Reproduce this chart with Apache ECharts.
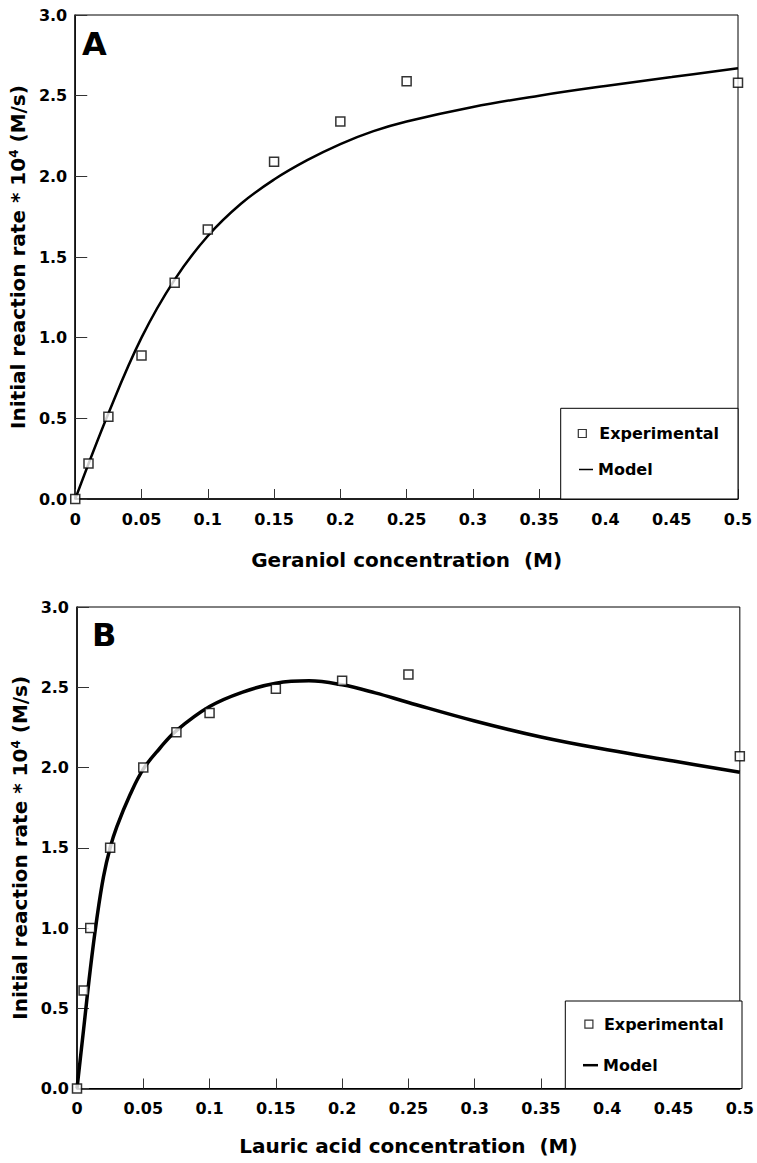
<!DOCTYPE html>
<html>
<head>
<meta charset="utf-8">
<script src="https://cdn.jsdelivr.net/npm/echarts@6/dist/echarts.min.js"></script>
<style>
html,body{margin:0;padding:0;background:#fff;}
#chart{width:757px;height:1163px;}
</style>
</head>
<body>
<div id="chart"></div>
<script>
// ---- Panel A: Geraniol ----
const xGeraniolExp = [0, 0.01, 0.025, 0.05, 0.075, 0.1, 0.15, 0.2, 0.25, 0.5];
const rateGeraniolExp = [0.0, 0.22, 0.51, 0.89, 1.34, 1.67, 2.09, 2.34, 2.59, 2.58];
const xGeraniolModel = [0, 0.025, 0.05, 0.075, 0.1, 0.125, 0.15, 0.175, 0.2, 0.225, 0.25, 0.3, 0.35, 0.4, 0.45, 0.5];
const rateGeraniolModel = [0, 0.53, 1.0, 1.36, 1.63, 1.83, 1.98, 2.10, 2.20, 2.28, 2.34, 2.43, 2.50, 2.56, 2.615, 2.67];

// ---- Panel B: Lauric acid ----
const xLauricExp = [0, 0.005, 0.01, 0.025, 0.05, 0.075, 0.1, 0.15, 0.2, 0.25, 0.5];
const rateLauricExp = [0.0, 0.61, 1.0, 1.5, 2.0, 2.22, 2.34, 2.49, 2.54, 2.58, 2.07];
const xLauricModel = [0, 0.005, 0.01, 0.015, 0.02, 0.025, 0.03, 0.04, 0.05, 0.0625, 0.075, 0.1, 0.125, 0.15, 0.175, 0.2, 0.225, 0.25, 0.3, 0.35, 0.4, 0.45, 0.5];
const rateLauricModel = [0, 0.37, 0.74, 1.06, 1.32, 1.50, 1.63, 1.83, 1.99, 2.12, 2.23, 2.38, 2.47, 2.525, 2.54, 2.515, 2.465, 2.405, 2.29, 2.19, 2.11, 2.04, 1.97];

// ---- Text ----
const panelLabels = ['A', 'B'];
const xTitles = ['Geraniol concentration  (M)', 'Lauric acid concentration  (M)'];
const yTitle = 'Initial reaction rate * 10{sup|4} (M/s)';
const legendNames = ['Experimental', 'Model'];

const FONT = 'DejaVu Sans';
const zip = (xs, ys) => xs.map((x, i) => [x, ys[i]]);

const grids = [
  { left: 72, right: 19, top: 15, height: 484 },
  { left: 77, right: 16, top: 607, height: 481.5 }
];

function xAxisFor(i, gap) {
  return {
    type: 'value', gridIndex: i, min: 0, max: 0.5, interval: 0.05,
    name: xTitles[i], nameLocation: 'middle', nameGap: gap,
    nameTextStyle: { fontFamily: FONT, fontWeight: 'bold', fontSize: 20, color: '#000' },
    axisLine: { show: true, onZero: false, lineStyle: { color: '#000', width: 1.5 } },
    axisTick: { show: true, inside: true, length: 10, lineStyle: { color: '#333', width: 1 } },
    axisLabel: { margin: 12, fontFamily: FONT, fontWeight: 'bold', fontSize: 16, color: '#000',
      formatter: v => String(+v.toFixed(2)) },
    splitLine: { show: false }
  };
}
function yAxisFor(i, gap) {
  return {
    type: 'value', gridIndex: i, min: 0, max: 3, interval: 0.5,
    name: yTitle, nameLocation: 'middle', nameGap: gap, nameRotate: 90,
    nameTextStyle: { fontFamily: FONT, fontWeight: 'bold', fontSize: 20, color: '#000',
      rich: { sup: { fontFamily: FONT, fontWeight: 'bold', fontSize: 12, color: '#000', verticalAlign: 'top', padding: [0, 0, 8, 0] } } },
    axisLine: { show: true, onZero: false, lineStyle: { color: '#000', width: 1.5 } },
    axisTick: { show: true, inside: true, length: 12, lineStyle: { color: '#333', width: 1 } },
    axisLabel: { margin: 8, fontFamily: FONT, fontWeight: 'bold', fontSize: 16, color: '#000',
      formatter: v => v.toFixed(1) },
    splitLine: { show: false }
  };
}

const chart = echarts.init(document.getElementById('chart'), null, { renderer: 'svg' });

const expItem = { color: '#fff', borderColor: '#000', borderWidth: 1.5 };
const legText = (padLeft) => ({ fontFamily: FONT, fontWeight: 'bold', fontSize: 16, color: '#000', padding: [0, 0, 0, padLeft] });

chart.setOption({
  animation: false,
  backgroundColor: '#fff',
  grid: grids.map(g => Object.assign({ show: true, borderColor: '#000', borderWidth: 1, backgroundColor: 'transparent' }, g)),
  xAxis: [xAxisFor(0, 51), xAxisFor(1, 47)],
  yAxis: [yAxisFor(0, 39), yAxisFor(1, 40)],
  legend: [
    { data: [legendNames[0]], left: 577.7, top: 425.5, itemWidth: 8, itemHeight: 8, padding: 0, z: 20,
      itemStyle: { borderWidth: 1.2 }, textStyle: legText(8) },
    { data: [{ name: legendNames[1], icon: 'rect', itemStyle: { color: '#000', borderWidth: 0 } }],
      left: 579, top: 461.5, itemWidth: 14, itemHeight: 1.5, padding: 0, z: 20, textStyle: legText(0) },
    { data: [legendNames[0]], left: 584.3, top: 1016.2, itemWidth: 8, itemHeight: 8, padding: 0, z: 20,
      itemStyle: { borderWidth: 1.2 }, textStyle: legText(6) },
    { data: [{ name: legendNames[1], icon: 'rect', itemStyle: { color: '#000', borderWidth: 0 } }],
      left: 583, top: 1057.2, itemWidth: 15, itemHeight: 2.5, padding: 0, z: 20, textStyle: legText(0) }
  ],
  graphic: [
    { type: 'rect', z: 10, shape: { x: 560.7, y: 408.3, width: 177.3, height: 90.7 },
      style: { fill: '#fff', stroke: '#000', lineWidth: 1 } },
    { type: 'rect', z: 10, shape: { x: 565.3, y: 1001, width: 176.7, height: 87.5 },
      style: { fill: '#fff', stroke: '#000', lineWidth: 1 } },
    { type: 'text', z: 10, style: { text: panelLabels[0], x: 82, y: 44, fill: '#000',
      font: 'bold 32px "DejaVu Sans"', verticalAlign: 'middle' } },
    { type: 'text', z: 10, style: { text: panelLabels[1], x: 92, y: 634.5, fill: '#000',
      font: 'bold 32px "DejaVu Sans"', verticalAlign: 'middle' } }
  ],
  series: [
    { name: legendNames[1], type: 'line', xAxisIndex: 0, yAxisIndex: 0, data: zip(xGeraniolModel, rateGeraniolModel),
      smooth: 0.4, symbol: 'none', lineStyle: { color: '#000', width: 2.5 }, itemStyle: { color: '#000' }, z: 2 },
    { name: legendNames[0], type: 'scatter', xAxisIndex: 0, yAxisIndex: 0, data: zip(xGeraniolExp, rateGeraniolExp),
      symbol: 'rect', symbolSize: 9, itemStyle: expItem, z: 3 },
    { name: legendNames[1], type: 'line', xAxisIndex: 1, yAxisIndex: 1, data: zip(xLauricModel, rateLauricModel),
      smooth: 0.4, symbol: 'none', lineStyle: { color: '#000', width: 3.5 }, itemStyle: { color: '#000' }, z: 2 },
    { name: legendNames[0], type: 'scatter', xAxisIndex: 1, yAxisIndex: 1, data: zip(xLauricExp, rateLauricExp),
      symbol: 'rect', symbolSize: 9, itemStyle: expItem, z: 3 }
  ]
});
</script>
</body>
</html>
